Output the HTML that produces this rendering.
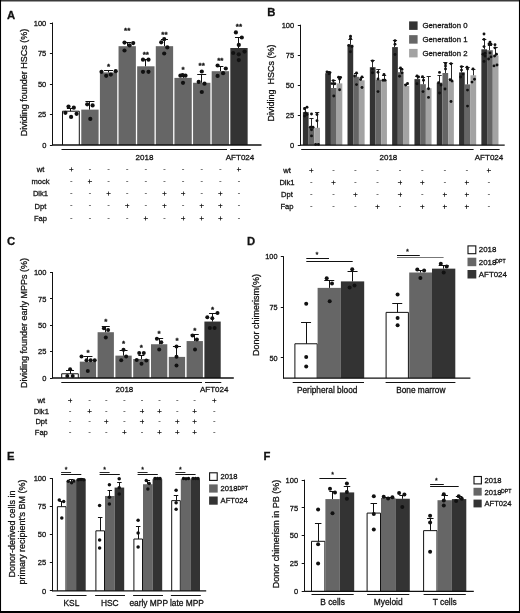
<!DOCTYPE html>
<html><head><meta charset="utf-8"><title>Figure</title>
<style>
html,body{margin:0;padding:0;background:#fff;}
body{width:520px;height:613px;overflow:hidden;font-family:"Liberation Sans", sans-serif;}
svg{display:block;will-change:transform;}
</style></head><body>
<svg width="520" height="613" viewBox="0 0 520 613" font-family='"Liberation Sans", sans-serif' fill="#111111">
<style>text{stroke:#111;stroke-width:0.28px;paint-order:stroke}</style>
<rect x="0" y="0" width="520" height="613" fill="#ffffff"/>
<text x="7" y="19" font-size="11.3" font-weight="bold">A</text>
<line x1="52.5" y1="22.5" x2="52.5" y2="145.5" stroke="#111111" stroke-width="1"/>
<line x1="49.9" y1="145.5" x2="52.5" y2="145.5" stroke="#111111" stroke-width="1"/>
<text x="46.3" y="147.66" font-size="7.5" text-anchor="end">0</text>
<line x1="49.9" y1="114.5" x2="52.5" y2="114.5" stroke="#111111" stroke-width="1"/>
<text x="46.3" y="117.16" font-size="7.5" text-anchor="end">25</text>
<line x1="49.9" y1="84.5" x2="52.5" y2="84.5" stroke="#111111" stroke-width="1"/>
<text x="46.3" y="86.66" font-size="7.5" text-anchor="end">50</text>
<line x1="49.9" y1="53.5" x2="52.5" y2="53.5" stroke="#111111" stroke-width="1"/>
<text x="46.3" y="56.16" font-size="7.5" text-anchor="end">75</text>
<line x1="49.9" y1="23.5" x2="52.5" y2="23.5" stroke="#111111" stroke-width="1"/>
<text x="46.3" y="25.66" font-size="7.5" text-anchor="end">100</text>
<text x="27.3" y="82.5" font-size="9" text-anchor="middle" transform="rotate(-90 27.3 82.5)">Dividing founder HSCs (%)</text>
<rect x="62.5" y="111.21" width="16.8" height="33.79" fill="#fff"/>
<polyline points="62.5,145 62.5,111.21 79.3,111.21 79.3,145" fill="none" stroke="#111111" stroke-width="1"/>
<line x1="70.5" y1="111.21" x2="70.5" y2="108.5" stroke="#111111" stroke-width="1"/>
<line x1="66.9" y1="108.5" x2="74.9" y2="108.5" stroke="#111111" stroke-width="1"/>
<circle cx="68.5" cy="106.6" r="2.1" fill="#111111"/>
<circle cx="73.8" cy="107.7" r="2.1" fill="#111111"/>
<circle cx="65.4" cy="112.8" r="2.1" fill="#111111"/>
<circle cx="71.1" cy="116.9" r="2.1" fill="#111111"/>
<circle cx="76.6" cy="113.8" r="2.1" fill="#111111"/>
<rect x="81.28" y="109.62" width="17.33" height="35.38" fill="#666666"/>
<line x1="89.5" y1="109.62" x2="89.5" y2="101.2" stroke="#111111" stroke-width="1"/>
<line x1="85.44" y1="101.5" x2="94.44" y2="101.5" stroke="#111111" stroke-width="1"/>
<circle cx="87.2" cy="104.3" r="2.1" fill="#111111"/>
<circle cx="92.6" cy="105.4" r="2.1" fill="#111111"/>
<circle cx="90.3" cy="118.9" r="2.1" fill="#111111"/>
<rect x="99.91" y="72.41" width="17.33" height="72.59" fill="#666666"/>
<line x1="108.5" y1="72.41" x2="108.5" y2="70.8" stroke="#111111" stroke-width="1"/>
<line x1="104.07" y1="70.5" x2="113.07" y2="70.5" stroke="#111111" stroke-width="1"/>
<circle cx="101.5" cy="71.8" r="2.1" fill="#111111"/>
<circle cx="106.2" cy="75.8" r="2.1" fill="#111111"/>
<circle cx="110.8" cy="74.6" r="2.1" fill="#111111"/>
<circle cx="115.7" cy="71.2" r="2.1" fill="#111111"/>
<text x="108.57" y="68.7" font-size="8" text-anchor="middle" font-weight="bold">*</text>
<rect x="118.54" y="46.18" width="17.33" height="98.82" fill="#666666"/>
<line x1="127.5" y1="46.18" x2="127.5" y2="42.3" stroke="#111111" stroke-width="1"/>
<line x1="123.2" y1="42.5" x2="131.2" y2="42.5" stroke="#111111" stroke-width="1"/>
<circle cx="124.5" cy="42.6" r="2.1" fill="#111111"/>
<circle cx="129.6" cy="45.4" r="2.1" fill="#111111"/>
<circle cx="133.2" cy="43.1" r="2.1" fill="#111111"/>
<circle cx="124.5" cy="50.5" r="2.1" fill="#111111"/>
<text x="127.2" y="32.9" font-size="8" text-anchor="middle" font-weight="bold">**</text>
<rect x="137.17" y="66.31" width="17.33" height="78.69" fill="#666666"/>
<line x1="145.5" y1="66.31" x2="145.5" y2="59.2" stroke="#111111" stroke-width="1"/>
<line x1="142.33" y1="59.5" x2="149.33" y2="59.5" stroke="#111111" stroke-width="1"/>
<circle cx="143" cy="59.7" r="2.1" fill="#111111"/>
<circle cx="148.5" cy="59.7" r="2.1" fill="#111111"/>
<circle cx="143" cy="71.8" r="2.1" fill="#111111"/>
<circle cx="148.5" cy="71.8" r="2.1" fill="#111111"/>
<text x="145.83" y="56.7" font-size="8" text-anchor="middle" font-weight="bold">**</text>
<rect x="155.8" y="46.18" width="17.33" height="98.82" fill="#666666"/>
<line x1="164.5" y1="46.18" x2="164.5" y2="39.2" stroke="#111111" stroke-width="1"/>
<line x1="160.96" y1="39.5" x2="167.96" y2="39.5" stroke="#111111" stroke-width="1"/>
<circle cx="161.2" cy="42.3" r="2.1" fill="#111111"/>
<circle cx="164.2" cy="39.2" r="2.1" fill="#111111"/>
<circle cx="167.3" cy="47.4" r="2.1" fill="#111111"/>
<circle cx="164.2" cy="53.5" r="2.1" fill="#111111"/>
<text x="164.46" y="37.2" font-size="8" text-anchor="middle" font-weight="bold">**</text>
<rect x="174.43" y="77.9" width="17.33" height="67.1" fill="#666666"/>
<line x1="183.5" y1="77.9" x2="183.5" y2="75" stroke="#111111" stroke-width="1"/>
<line x1="179.59" y1="75.5" x2="186.59" y2="75.5" stroke="#111111" stroke-width="1"/>
<circle cx="180.4" cy="75.7" r="2.1" fill="#111111"/>
<circle cx="185.5" cy="75.7" r="2.1" fill="#111111"/>
<circle cx="183" cy="82.8" r="2.1" fill="#111111"/>
<circle cx="182.6" cy="75.2" r="2.1" fill="#111111"/>
<text x="183.09" y="71.8" font-size="8" text-anchor="middle" font-weight="bold">*</text>
<rect x="193.06" y="82.78" width="17.33" height="62.22" fill="#666666"/>
<line x1="201.5" y1="82.78" x2="201.5" y2="74.2" stroke="#111111" stroke-width="1"/>
<line x1="197.22" y1="74.5" x2="206.22" y2="74.5" stroke="#111111" stroke-width="1"/>
<circle cx="201.8" cy="71.5" r="2.1" fill="#111111"/>
<circle cx="198.7" cy="81.9" r="2.1" fill="#111111"/>
<circle cx="204.5" cy="83.7" r="2.1" fill="#111111"/>
<circle cx="201.8" cy="92" r="2.1" fill="#111111"/>
<text x="201.72" y="68.2" font-size="8" text-anchor="middle" font-weight="bold">**</text>
<rect x="211.69" y="71.19" width="17.33" height="73.81" fill="#666666"/>
<line x1="220.5" y1="71.19" x2="220.5" y2="66.4" stroke="#111111" stroke-width="1"/>
<line x1="217.35" y1="66.5" x2="223.35" y2="66.5" stroke="#111111" stroke-width="1"/>
<circle cx="217.6" cy="65.5" r="2.1" fill="#111111"/>
<circle cx="225.8" cy="68.5" r="2.1" fill="#111111"/>
<circle cx="223.1" cy="73.2" r="2.1" fill="#111111"/>
<circle cx="217.6" cy="75.9" r="2.1" fill="#111111"/>
<text x="220.35" y="63.4" font-size="8" text-anchor="middle" font-weight="bold">**</text>
<rect x="230.32" y="48.01" width="17.33" height="96.99" fill="#333333"/>
<line x1="238.5" y1="48.01" x2="238.5" y2="37.5" stroke="#111111" stroke-width="1"/>
<line x1="234.98" y1="37.5" x2="242.98" y2="37.5" stroke="#111111" stroke-width="1"/>
<circle cx="235.9" cy="32.4" r="2.1" fill="#111111"/>
<circle cx="241.8" cy="37.5" r="2.1" fill="#111111"/>
<circle cx="238.8" cy="44.9" r="2.1" fill="#111111"/>
<circle cx="233.2" cy="53" r="2.1" fill="#111111"/>
<circle cx="244.5" cy="51.6" r="2.1" fill="#111111"/>
<circle cx="238.8" cy="54.3" r="2.1" fill="#111111"/>
<circle cx="238.8" cy="60.1" r="2.1" fill="#111111"/>
<text x="238.98" y="29.2" font-size="8" text-anchor="middle" font-weight="bold">**</text>
<line x1="61.5" y1="149.5" x2="227" y2="149.5" stroke="#111111" stroke-width="1"/>
<line x1="230.2" y1="149.5" x2="250.7" y2="149.5" stroke="#111111" stroke-width="1"/>
<text x="144.5" y="159.5" font-size="8" text-anchor="middle">2018</text>
<text x="240" y="160" font-size="8" text-anchor="middle">AFT024</text>
<text x="40.5" y="172" font-size="7.6" text-anchor="middle">wt</text>
<line x1="69.22" y1="169.5" x2="73.41" y2="169.5" stroke="#111111" stroke-width="0.75"/>
<line x1="71.5" y1="167.3" x2="71.5" y2="171.5" stroke="#111111" stroke-width="0.75"/>
<line x1="88.94" y1="169.5" x2="90.94" y2="169.5" stroke="#555" stroke-width="0.8"/>
<line x1="107.57" y1="169.5" x2="109.57" y2="169.5" stroke="#555" stroke-width="0.8"/>
<line x1="126.2" y1="169.5" x2="128.2" y2="169.5" stroke="#555" stroke-width="0.8"/>
<line x1="144.83" y1="169.5" x2="146.83" y2="169.5" stroke="#555" stroke-width="0.8"/>
<line x1="163.46" y1="169.5" x2="165.46" y2="169.5" stroke="#555" stroke-width="0.8"/>
<line x1="182.09" y1="169.5" x2="184.09" y2="169.5" stroke="#555" stroke-width="0.8"/>
<line x1="200.72" y1="169.5" x2="202.72" y2="169.5" stroke="#555" stroke-width="0.8"/>
<line x1="219.35" y1="169.5" x2="221.35" y2="169.5" stroke="#555" stroke-width="0.8"/>
<line x1="236.88" y1="169.5" x2="241.08" y2="169.5" stroke="#111111" stroke-width="0.75"/>
<line x1="238.5" y1="167.3" x2="238.5" y2="171.5" stroke="#111111" stroke-width="0.75"/>
<text x="40.5" y="184.1" font-size="7.6" text-anchor="middle">mock</text>
<line x1="70.31" y1="181.5" x2="72.31" y2="181.5" stroke="#555" stroke-width="0.8"/>
<line x1="87.84" y1="181.5" x2="92.04" y2="181.5" stroke="#111111" stroke-width="0.75"/>
<line x1="89.5" y1="179.4" x2="89.5" y2="183.6" stroke="#111111" stroke-width="0.75"/>
<line x1="107.57" y1="181.5" x2="109.57" y2="181.5" stroke="#555" stroke-width="0.8"/>
<line x1="126.2" y1="181.5" x2="128.2" y2="181.5" stroke="#555" stroke-width="0.8"/>
<line x1="144.83" y1="181.5" x2="146.83" y2="181.5" stroke="#555" stroke-width="0.8"/>
<line x1="163.46" y1="181.5" x2="165.46" y2="181.5" stroke="#555" stroke-width="0.8"/>
<line x1="182.09" y1="181.5" x2="184.09" y2="181.5" stroke="#555" stroke-width="0.8"/>
<line x1="200.72" y1="181.5" x2="202.72" y2="181.5" stroke="#555" stroke-width="0.8"/>
<line x1="219.35" y1="181.5" x2="221.35" y2="181.5" stroke="#555" stroke-width="0.8"/>
<line x1="237.98" y1="181.5" x2="239.98" y2="181.5" stroke="#555" stroke-width="0.8"/>
<text x="40.5" y="196.2" font-size="7.6" text-anchor="middle">Dlk1</text>
<line x1="70.31" y1="193.5" x2="72.31" y2="193.5" stroke="#555" stroke-width="0.8"/>
<line x1="88.94" y1="193.5" x2="90.94" y2="193.5" stroke="#555" stroke-width="0.8"/>
<line x1="106.47" y1="193.5" x2="110.67" y2="193.5" stroke="#111111" stroke-width="0.75"/>
<line x1="108.5" y1="191.5" x2="108.5" y2="195.7" stroke="#111111" stroke-width="0.75"/>
<line x1="126.2" y1="193.5" x2="128.2" y2="193.5" stroke="#555" stroke-width="0.8"/>
<line x1="144.83" y1="193.5" x2="146.83" y2="193.5" stroke="#555" stroke-width="0.8"/>
<line x1="162.36" y1="193.5" x2="166.56" y2="193.5" stroke="#111111" stroke-width="0.75"/>
<line x1="164.5" y1="191.5" x2="164.5" y2="195.7" stroke="#111111" stroke-width="0.75"/>
<line x1="181" y1="193.5" x2="185.19" y2="193.5" stroke="#111111" stroke-width="0.75"/>
<line x1="183.5" y1="191.5" x2="183.5" y2="195.7" stroke="#111111" stroke-width="0.75"/>
<line x1="200.72" y1="193.5" x2="202.72" y2="193.5" stroke="#555" stroke-width="0.8"/>
<line x1="218.25" y1="193.5" x2="222.45" y2="193.5" stroke="#111111" stroke-width="0.75"/>
<line x1="220.5" y1="191.5" x2="220.5" y2="195.7" stroke="#111111" stroke-width="0.75"/>
<line x1="237.98" y1="193.5" x2="239.98" y2="193.5" stroke="#555" stroke-width="0.8"/>
<text x="40.5" y="208.5" font-size="7.6" text-anchor="middle">Dpt</text>
<line x1="70.31" y1="205.5" x2="72.31" y2="205.5" stroke="#555" stroke-width="0.8"/>
<line x1="88.94" y1="205.5" x2="90.94" y2="205.5" stroke="#555" stroke-width="0.8"/>
<line x1="107.57" y1="205.5" x2="109.57" y2="205.5" stroke="#555" stroke-width="0.8"/>
<line x1="125.1" y1="205.5" x2="129.3" y2="205.5" stroke="#111111" stroke-width="0.75"/>
<line x1="127.5" y1="203.8" x2="127.5" y2="208" stroke="#111111" stroke-width="0.75"/>
<line x1="144.83" y1="205.5" x2="146.83" y2="205.5" stroke="#555" stroke-width="0.8"/>
<line x1="162.36" y1="205.5" x2="166.56" y2="205.5" stroke="#111111" stroke-width="0.75"/>
<line x1="164.5" y1="203.8" x2="164.5" y2="208" stroke="#111111" stroke-width="0.75"/>
<line x1="182.09" y1="205.5" x2="184.09" y2="205.5" stroke="#555" stroke-width="0.8"/>
<line x1="199.62" y1="205.5" x2="203.82" y2="205.5" stroke="#111111" stroke-width="0.75"/>
<line x1="201.5" y1="203.8" x2="201.5" y2="208" stroke="#111111" stroke-width="0.75"/>
<line x1="218.25" y1="205.5" x2="222.45" y2="205.5" stroke="#111111" stroke-width="0.75"/>
<line x1="220.5" y1="203.8" x2="220.5" y2="208" stroke="#111111" stroke-width="0.75"/>
<line x1="237.98" y1="205.5" x2="239.98" y2="205.5" stroke="#555" stroke-width="0.8"/>
<text x="40.5" y="221" font-size="7.6" text-anchor="middle">Fap</text>
<line x1="70.31" y1="218.5" x2="72.31" y2="218.5" stroke="#555" stroke-width="0.8"/>
<line x1="88.94" y1="218.5" x2="90.94" y2="218.5" stroke="#555" stroke-width="0.8"/>
<line x1="107.57" y1="218.5" x2="109.57" y2="218.5" stroke="#555" stroke-width="0.8"/>
<line x1="126.2" y1="218.5" x2="128.2" y2="218.5" stroke="#555" stroke-width="0.8"/>
<line x1="143.73" y1="218.5" x2="147.93" y2="218.5" stroke="#111111" stroke-width="0.75"/>
<line x1="145.5" y1="216.3" x2="145.5" y2="220.5" stroke="#111111" stroke-width="0.75"/>
<line x1="163.46" y1="218.5" x2="165.46" y2="218.5" stroke="#555" stroke-width="0.8"/>
<line x1="181" y1="218.5" x2="185.19" y2="218.5" stroke="#111111" stroke-width="0.75"/>
<line x1="183.5" y1="216.3" x2="183.5" y2="220.5" stroke="#111111" stroke-width="0.75"/>
<line x1="199.62" y1="218.5" x2="203.82" y2="218.5" stroke="#111111" stroke-width="0.75"/>
<line x1="201.5" y1="216.3" x2="201.5" y2="220.5" stroke="#111111" stroke-width="0.75"/>
<line x1="218.25" y1="218.5" x2="222.45" y2="218.5" stroke="#111111" stroke-width="0.75"/>
<line x1="220.5" y1="216.3" x2="220.5" y2="220.5" stroke="#111111" stroke-width="0.75"/>
<line x1="237.98" y1="218.5" x2="239.98" y2="218.5" stroke="#555" stroke-width="0.8"/>
<text x="267.2" y="15.9" font-size="11.3" font-weight="bold">B</text>
<line x1="300.5" y1="24.7" x2="300.5" y2="145.7" stroke="#111111" stroke-width="1"/>
<line x1="297.8" y1="145.5" x2="300.4" y2="145.5" stroke="#111111" stroke-width="1"/>
<text x="294.2" y="147.85" font-size="7.5" text-anchor="end">0</text>
<line x1="297.8" y1="115.5" x2="300.4" y2="115.5" stroke="#111111" stroke-width="1"/>
<text x="294.2" y="117.85" font-size="7.5" text-anchor="end">25</text>
<line x1="297.8" y1="85.5" x2="300.4" y2="85.5" stroke="#111111" stroke-width="1"/>
<text x="294.2" y="87.85" font-size="7.5" text-anchor="end">50</text>
<line x1="297.8" y1="55.5" x2="300.4" y2="55.5" stroke="#111111" stroke-width="1"/>
<text x="294.2" y="57.86" font-size="7.5" text-anchor="end">75</text>
<line x1="297.8" y1="25.5" x2="300.4" y2="25.5" stroke="#111111" stroke-width="1"/>
<text x="294.2" y="27.86" font-size="7.5" text-anchor="end">100</text>
<text x="273.6" y="83" font-size="9" text-anchor="middle" transform="rotate(-90 273.6 83)" xml:space="preserve">Dividing  HSCs (%)</text>
<rect x="302.9" y="112.1" width="5.7" height="33.1" fill="#333333"/>
<rect x="308.6" y="127" width="5.7" height="18.2" fill="#666666"/>
<rect x="314.3" y="127.8" width="5.7" height="17.4" fill="#a3a3a3"/>
<line x1="305.5" y1="112.1" x2="305.5" y2="107.8" stroke="#111111" stroke-width="0.9"/>
<line x1="303.65" y1="107.5" x2="307.85" y2="107.5" stroke="#111111" stroke-width="0.9"/>
<circle cx="304.5" cy="108.8" r="1.45" fill="#111111"/>
<circle cx="307" cy="107.3" r="1.45" fill="#111111"/>
<circle cx="305.5" cy="113" r="1.45" fill="#111111"/>
<circle cx="307" cy="114.5" r="1.45" fill="#111111"/>
<circle cx="304.6" cy="116" r="1.45" fill="#111111"/>
<line x1="311.5" y1="127" x2="311.5" y2="118.4" stroke="#111111" stroke-width="0.9"/>
<line x1="309.35" y1="118.5" x2="313.55" y2="118.5" stroke="#111111" stroke-width="0.9"/>
<circle cx="311.5" cy="114" r="1.45" fill="#111111"/>
<circle cx="310.4" cy="127.3" r="1.45" fill="#111111"/>
<circle cx="313" cy="127.3" r="1.45" fill="#111111"/>
<circle cx="311.5" cy="129.8" r="1.45" fill="#111111"/>
<circle cx="311.5" cy="135.9" r="1.45" fill="#111111"/>
<line x1="317.5" y1="127.8" x2="317.5" y2="112.5" stroke="#111111" stroke-width="0.9"/>
<line x1="315.05" y1="112.5" x2="319.25" y2="112.5" stroke="#111111" stroke-width="0.9"/>
<circle cx="317" cy="114.5" r="1.45" fill="#111111"/>
<circle cx="317" cy="120.8" r="1.45" fill="#111111"/>
<circle cx="315.6" cy="144.4" r="1.45" fill="#111111"/>
<circle cx="318.4" cy="144.4" r="1.45" fill="#111111"/>
<rect x="325.21" y="73.2" width="5.7" height="72" fill="#333333"/>
<rect x="330.91" y="88" width="5.7" height="57.2" fill="#666666"/>
<rect x="336.61" y="83.4" width="5.7" height="61.8" fill="#a3a3a3"/>
<line x1="328.5" y1="73.2" x2="328.5" y2="71.4" stroke="#111111" stroke-width="0.9"/>
<line x1="325.96" y1="71.5" x2="330.16" y2="71.5" stroke="#111111" stroke-width="0.9"/>
<circle cx="327" cy="72" r="1.45" fill="#111111"/>
<circle cx="330" cy="72.6" r="1.45" fill="#111111"/>
<circle cx="329" cy="73.8" r="1.45" fill="#111111"/>
<line x1="333.5" y1="88" x2="333.5" y2="80.3" stroke="#111111" stroke-width="0.9"/>
<line x1="331.66" y1="80.5" x2="335.86" y2="80.5" stroke="#111111" stroke-width="0.9"/>
<circle cx="333.3" cy="80.6" r="1.45" fill="#111111"/>
<circle cx="332" cy="83.6" r="1.45" fill="#111111"/>
<circle cx="334.8" cy="83.8" r="1.45" fill="#111111"/>
<circle cx="333.8" cy="96" r="1.45" fill="#111111"/>
<line x1="339.5" y1="83.4" x2="339.5" y2="77.7" stroke="#111111" stroke-width="0.9"/>
<line x1="337.36" y1="77.5" x2="341.56" y2="77.5" stroke="#111111" stroke-width="0.9"/>
<circle cx="338.6" cy="77.2" r="1.45" fill="#111111"/>
<circle cx="340.6" cy="77.4" r="1.45" fill="#111111"/>
<circle cx="339.6" cy="79" r="1.45" fill="#111111"/>
<circle cx="339.6" cy="89.8" r="1.45" fill="#111111"/>
<rect x="347.52" y="44.8" width="5.7" height="100.4" fill="#333333"/>
<rect x="353.22" y="76.8" width="5.7" height="68.4" fill="#666666"/>
<rect x="358.92" y="80.3" width="5.7" height="64.9" fill="#a3a3a3"/>
<line x1="350.5" y1="44.8" x2="350.5" y2="39.1" stroke="#111111" stroke-width="0.9"/>
<line x1="348.27" y1="39.5" x2="352.47" y2="39.5" stroke="#111111" stroke-width="0.9"/>
<circle cx="350.5" cy="36.3" r="1.45" fill="#111111"/>
<circle cx="350.5" cy="38.4" r="1.45" fill="#111111"/>
<circle cx="348.8" cy="45.5" r="1.45" fill="#111111"/>
<circle cx="352" cy="46.5" r="1.45" fill="#111111"/>
<circle cx="350.4" cy="51.7" r="1.45" fill="#111111"/>
<line x1="356.5" y1="76.8" x2="356.5" y2="73.2" stroke="#111111" stroke-width="0.9"/>
<line x1="353.97" y1="73.5" x2="358.17" y2="73.5" stroke="#111111" stroke-width="0.9"/>
<circle cx="356.5" cy="73" r="1.45" fill="#111111"/>
<circle cx="354.6" cy="76" r="1.45" fill="#111111"/>
<circle cx="356.5" cy="84.6" r="1.45" fill="#111111"/>
<line x1="361.5" y1="80.3" x2="361.5" y2="77.2" stroke="#111111" stroke-width="0.9"/>
<line x1="359.67" y1="77.5" x2="363.87" y2="77.5" stroke="#111111" stroke-width="0.9"/>
<circle cx="362" cy="77" r="1.45" fill="#111111"/>
<circle cx="360.5" cy="79.5" r="1.45" fill="#111111"/>
<circle cx="362" cy="87.5" r="1.45" fill="#111111"/>
<rect x="369.83" y="67.2" width="5.7" height="78" fill="#333333"/>
<rect x="375.53" y="79.7" width="5.7" height="65.5" fill="#666666"/>
<rect x="381.23" y="80.2" width="5.7" height="65" fill="#a3a3a3"/>
<line x1="372.5" y1="67.2" x2="372.5" y2="60.8" stroke="#111111" stroke-width="0.9"/>
<line x1="370.58" y1="60.5" x2="374.78" y2="60.5" stroke="#111111" stroke-width="0.9"/>
<circle cx="372.5" cy="61" r="1.45" fill="#111111"/>
<circle cx="372.5" cy="69" r="1.45" fill="#111111"/>
<circle cx="372.5" cy="72.8" r="1.45" fill="#111111"/>
<line x1="378.5" y1="79.7" x2="378.5" y2="69.4" stroke="#111111" stroke-width="0.9"/>
<line x1="376.28" y1="69.5" x2="380.48" y2="69.5" stroke="#111111" stroke-width="0.9"/>
<circle cx="378" cy="72.2" r="1.45" fill="#111111"/>
<circle cx="378" cy="79" r="1.45" fill="#111111"/>
<circle cx="378" cy="91.6" r="1.45" fill="#111111"/>
<line x1="384.5" y1="80.2" x2="384.5" y2="75.1" stroke="#111111" stroke-width="0.9"/>
<line x1="381.98" y1="75.5" x2="386.18" y2="75.5" stroke="#111111" stroke-width="0.9"/>
<circle cx="384" cy="74.5" r="1.45" fill="#111111"/>
<circle cx="383" cy="80.2" r="1.45" fill="#111111"/>
<circle cx="385" cy="80.2" r="1.45" fill="#111111"/>
<rect x="392.14" y="47.1" width="5.7" height="98.1" fill="#333333"/>
<rect x="397.84" y="72.2" width="5.7" height="73" fill="#666666"/>
<rect x="403.54" y="85.9" width="5.7" height="59.3" fill="#a3a3a3"/>
<line x1="394.5" y1="47.1" x2="394.5" y2="40.8" stroke="#111111" stroke-width="0.9"/>
<line x1="392.89" y1="40.5" x2="397.09" y2="40.5" stroke="#111111" stroke-width="0.9"/>
<circle cx="395" cy="40.8" r="1.45" fill="#111111"/>
<circle cx="395" cy="44.3" r="1.45" fill="#111111"/>
<circle cx="395" cy="54.5" r="1.45" fill="#111111"/>
<line x1="400.5" y1="72.2" x2="400.5" y2="68.2" stroke="#111111" stroke-width="0.9"/>
<line x1="398.59" y1="68.5" x2="402.79" y2="68.5" stroke="#111111" stroke-width="0.9"/>
<circle cx="400.5" cy="68" r="1.45" fill="#111111"/>
<circle cx="402" cy="69.4" r="1.45" fill="#111111"/>
<circle cx="402" cy="72.8" r="1.45" fill="#111111"/>
<circle cx="399.6" cy="76.2" r="1.45" fill="#111111"/>
<line x1="406.5" y1="85.9" x2="406.5" y2="84.6" stroke="#111111" stroke-width="0.9"/>
<line x1="404.29" y1="84.5" x2="408.49" y2="84.5" stroke="#111111" stroke-width="0.9"/>
<circle cx="405.6" cy="85" r="1.45" fill="#111111"/>
<circle cx="407.5" cy="83.5" r="1.45" fill="#111111"/>
<rect x="414.45" y="79.1" width="5.7" height="66.1" fill="#333333"/>
<rect x="420.15" y="84.2" width="5.7" height="61" fill="#666666"/>
<rect x="425.85" y="88.2" width="5.7" height="57" fill="#a3a3a3"/>
<line x1="417.5" y1="79.1" x2="417.5" y2="76.2" stroke="#111111" stroke-width="0.9"/>
<line x1="415.2" y1="76.5" x2="419.4" y2="76.5" stroke="#111111" stroke-width="0.9"/>
<circle cx="417" cy="76" r="1.45" fill="#111111"/>
<circle cx="418.5" cy="77" r="1.45" fill="#111111"/>
<circle cx="417" cy="83.7" r="1.45" fill="#111111"/>
<line x1="423.5" y1="84.2" x2="423.5" y2="77.4" stroke="#111111" stroke-width="0.9"/>
<line x1="420.9" y1="77.5" x2="425.1" y2="77.5" stroke="#111111" stroke-width="0.9"/>
<circle cx="422.5" cy="76.8" r="1.45" fill="#111111"/>
<circle cx="423.5" cy="80.2" r="1.45" fill="#111111"/>
<circle cx="423" cy="91.6" r="1.45" fill="#111111"/>
<line x1="428.5" y1="88.2" x2="428.5" y2="76.8" stroke="#111111" stroke-width="0.9"/>
<line x1="426.6" y1="76.5" x2="430.8" y2="76.5" stroke="#111111" stroke-width="0.9"/>
<circle cx="428.5" cy="88.8" r="1.45" fill="#111111"/>
<circle cx="428.5" cy="97.4" r="1.45" fill="#111111"/>
<rect x="436.76" y="82.7" width="5.7" height="62.5" fill="#333333"/>
<rect x="442.46" y="73" width="5.7" height="72.2" fill="#666666"/>
<rect x="448.16" y="81" width="5.7" height="64.2" fill="#a3a3a3"/>
<line x1="439.5" y1="82.7" x2="439.5" y2="75.3" stroke="#111111" stroke-width="0.9"/>
<line x1="437.51" y1="75.5" x2="441.71" y2="75.5" stroke="#111111" stroke-width="0.9"/>
<circle cx="439.5" cy="72.4" r="1.45" fill="#111111"/>
<circle cx="438.6" cy="82.7" r="1.45" fill="#111111"/>
<circle cx="441" cy="85" r="1.45" fill="#111111"/>
<circle cx="439.5" cy="93" r="1.45" fill="#111111"/>
<line x1="445.5" y1="73" x2="445.5" y2="62.7" stroke="#111111" stroke-width="0.9"/>
<line x1="443.21" y1="62.5" x2="447.41" y2="62.5" stroke="#111111" stroke-width="0.9"/>
<circle cx="445.5" cy="63.8" r="1.45" fill="#111111"/>
<circle cx="445.5" cy="66.1" r="1.45" fill="#111111"/>
<circle cx="445.5" cy="69" r="1.45" fill="#111111"/>
<circle cx="445" cy="89" r="1.45" fill="#111111"/>
<line x1="451.5" y1="81" x2="451.5" y2="63.8" stroke="#111111" stroke-width="0.9"/>
<line x1="448.91" y1="63.5" x2="453.11" y2="63.5" stroke="#111111" stroke-width="0.9"/>
<circle cx="451" cy="63.8" r="1.45" fill="#111111"/>
<circle cx="450" cy="79.8" r="1.45" fill="#111111"/>
<circle cx="452" cy="81" r="1.45" fill="#111111"/>
<circle cx="451" cy="101.5" r="1.45" fill="#111111"/>
<rect x="459.07" y="72.4" width="5.7" height="72.8" fill="#333333"/>
<rect x="464.77" y="84.4" width="5.7" height="60.8" fill="#666666"/>
<rect x="470.47" y="75.3" width="5.7" height="69.9" fill="#a3a3a3"/>
<line x1="461.5" y1="72.4" x2="461.5" y2="66.7" stroke="#111111" stroke-width="0.9"/>
<line x1="459.82" y1="66.5" x2="464.02" y2="66.5" stroke="#111111" stroke-width="0.9"/>
<circle cx="461.5" cy="66.7" r="1.45" fill="#111111"/>
<circle cx="461.5" cy="70.1" r="1.45" fill="#111111"/>
<circle cx="463" cy="74.1" r="1.45" fill="#111111"/>
<circle cx="460.6" cy="77" r="1.45" fill="#111111"/>
<line x1="467.5" y1="84.4" x2="467.5" y2="67.8" stroke="#111111" stroke-width="0.9"/>
<line x1="465.52" y1="67.5" x2="469.72" y2="67.5" stroke="#111111" stroke-width="0.9"/>
<circle cx="467" cy="67.3" r="1.45" fill="#111111"/>
<circle cx="467.5" cy="69" r="1.45" fill="#111111"/>
<circle cx="467.5" cy="90.1" r="1.45" fill="#111111"/>
<circle cx="467.5" cy="106.1" r="1.45" fill="#111111"/>
<line x1="473.5" y1="75.3" x2="473.5" y2="69" stroke="#111111" stroke-width="0.9"/>
<line x1="471.22" y1="69.5" x2="475.42" y2="69.5" stroke="#111111" stroke-width="0.9"/>
<circle cx="473" cy="69" r="1.45" fill="#111111"/>
<circle cx="472" cy="82.1" r="1.45" fill="#111111"/>
<circle cx="474.5" cy="79.2" r="1.45" fill="#111111"/>
<rect x="481.38" y="49.3" width="5.7" height="95.9" fill="#333333"/>
<rect x="487.08" y="50.2" width="5.7" height="95" fill="#666666"/>
<rect x="492.78" y="55.5" width="5.7" height="89.7" fill="#a3a3a3"/>
<line x1="484.5" y1="49.3" x2="484.5" y2="39.4" stroke="#111111" stroke-width="0.9"/>
<line x1="482.13" y1="39.5" x2="486.33" y2="39.5" stroke="#111111" stroke-width="0.9"/>
<circle cx="484" cy="34" r="1.45" fill="#111111"/>
<circle cx="484" cy="39.4" r="1.45" fill="#111111"/>
<circle cx="484" cy="46.6" r="1.45" fill="#111111"/>
<circle cx="483" cy="54.2" r="1.45" fill="#111111"/>
<circle cx="485" cy="53.3" r="1.45" fill="#111111"/>
<circle cx="485" cy="56" r="1.45" fill="#111111"/>
<circle cx="484" cy="61.4" r="1.45" fill="#111111"/>
<line x1="489.5" y1="50.2" x2="489.5" y2="45.2" stroke="#111111" stroke-width="0.9"/>
<line x1="487.83" y1="45.5" x2="492.03" y2="45.5" stroke="#111111" stroke-width="0.9"/>
<circle cx="490" cy="42.1" r="1.45" fill="#111111"/>
<circle cx="489" cy="43.9" r="1.45" fill="#111111"/>
<circle cx="491" cy="44.3" r="1.45" fill="#111111"/>
<circle cx="490" cy="52.9" r="1.45" fill="#111111"/>
<circle cx="491" cy="56.9" r="1.45" fill="#111111"/>
<circle cx="488.6" cy="59" r="1.45" fill="#111111"/>
<line x1="495.5" y1="55.5" x2="495.5" y2="47.5" stroke="#111111" stroke-width="0.9"/>
<line x1="493.53" y1="47.5" x2="497.73" y2="47.5" stroke="#111111" stroke-width="0.9"/>
<circle cx="495" cy="44.8" r="1.45" fill="#111111"/>
<circle cx="495" cy="47.9" r="1.45" fill="#111111"/>
<circle cx="494.6" cy="56" r="1.45" fill="#111111"/>
<circle cx="496.5" cy="54.2" r="1.45" fill="#111111"/>
<circle cx="494" cy="65.9" r="1.45" fill="#111111"/>
<circle cx="497" cy="65" r="1.45" fill="#111111"/>
<line x1="301.2" y1="149.5" x2="473.6" y2="149.5" stroke="#111111" stroke-width="1"/>
<line x1="480" y1="149.5" x2="499.6" y2="149.5" stroke="#111111" stroke-width="1"/>
<text x="388.4" y="160.3" font-size="8" text-anchor="middle">2018</text>
<text x="489" y="160.3" font-size="8" text-anchor="middle">AFT024</text>
<rect x="409.1" y="21.4" width="8.5" height="8.5" fill="#333333"/>
<text x="422.4" y="28.2" font-size="7.8">Generation 0</text>
<rect x="409.1" y="35.15" width="8.5" height="8.5" fill="#666666"/>
<text x="422.4" y="41.95" font-size="7.8">Generation 1</text>
<rect x="409.1" y="48.9" width="8.5" height="8.5" fill="#a3a3a3"/>
<text x="422.4" y="55.7" font-size="7.8">Generation 2</text>
<text x="287" y="173.1" font-size="7.6" text-anchor="middle">wt</text>
<line x1="309.2" y1="170.5" x2="313.4" y2="170.5" stroke="#111111" stroke-width="0.75"/>
<line x1="311.5" y1="168.4" x2="311.5" y2="172.6" stroke="#111111" stroke-width="0.75"/>
<line x1="332.5" y1="170.5" x2="334.5" y2="170.5" stroke="#555" stroke-width="0.8"/>
<line x1="354.4" y1="170.5" x2="356.4" y2="170.5" stroke="#555" stroke-width="0.8"/>
<line x1="376.5" y1="170.5" x2="378.5" y2="170.5" stroke="#555" stroke-width="0.8"/>
<line x1="399" y1="170.5" x2="401" y2="170.5" stroke="#555" stroke-width="0.8"/>
<line x1="421.3" y1="170.5" x2="423.3" y2="170.5" stroke="#555" stroke-width="0.8"/>
<line x1="443.9" y1="170.5" x2="445.9" y2="170.5" stroke="#555" stroke-width="0.8"/>
<line x1="465.9" y1="170.5" x2="467.9" y2="170.5" stroke="#555" stroke-width="0.8"/>
<line x1="486.8" y1="170.5" x2="491" y2="170.5" stroke="#111111" stroke-width="0.75"/>
<line x1="488.5" y1="168.4" x2="488.5" y2="172.6" stroke="#111111" stroke-width="0.75"/>
<text x="287" y="185.2" font-size="7.6" text-anchor="middle">Dlk1</text>
<line x1="310.3" y1="182.5" x2="312.3" y2="182.5" stroke="#555" stroke-width="0.8"/>
<line x1="331.4" y1="182.5" x2="335.6" y2="182.5" stroke="#111111" stroke-width="0.75"/>
<line x1="333.5" y1="180.5" x2="333.5" y2="184.7" stroke="#111111" stroke-width="0.75"/>
<line x1="354.4" y1="182.5" x2="356.4" y2="182.5" stroke="#555" stroke-width="0.8"/>
<line x1="376.5" y1="182.5" x2="378.5" y2="182.5" stroke="#555" stroke-width="0.8"/>
<line x1="397.9" y1="182.5" x2="402.1" y2="182.5" stroke="#111111" stroke-width="0.75"/>
<line x1="400.5" y1="180.5" x2="400.5" y2="184.7" stroke="#111111" stroke-width="0.75"/>
<line x1="420.2" y1="182.5" x2="424.4" y2="182.5" stroke="#111111" stroke-width="0.75"/>
<line x1="422.5" y1="180.5" x2="422.5" y2="184.7" stroke="#111111" stroke-width="0.75"/>
<line x1="443.9" y1="182.5" x2="445.9" y2="182.5" stroke="#555" stroke-width="0.8"/>
<line x1="464.8" y1="182.5" x2="469" y2="182.5" stroke="#111111" stroke-width="0.75"/>
<line x1="466.5" y1="180.5" x2="466.5" y2="184.7" stroke="#111111" stroke-width="0.75"/>
<line x1="487.9" y1="182.5" x2="489.9" y2="182.5" stroke="#555" stroke-width="0.8"/>
<text x="287" y="197.3" font-size="7.6" text-anchor="middle">Dpt</text>
<line x1="310.3" y1="194.5" x2="312.3" y2="194.5" stroke="#555" stroke-width="0.8"/>
<line x1="332.5" y1="194.5" x2="334.5" y2="194.5" stroke="#555" stroke-width="0.8"/>
<line x1="353.3" y1="194.5" x2="357.5" y2="194.5" stroke="#111111" stroke-width="0.75"/>
<line x1="355.5" y1="192.6" x2="355.5" y2="196.8" stroke="#111111" stroke-width="0.75"/>
<line x1="376.5" y1="194.5" x2="378.5" y2="194.5" stroke="#555" stroke-width="0.8"/>
<line x1="397.9" y1="194.5" x2="402.1" y2="194.5" stroke="#111111" stroke-width="0.75"/>
<line x1="400.5" y1="192.6" x2="400.5" y2="196.8" stroke="#111111" stroke-width="0.75"/>
<line x1="421.3" y1="194.5" x2="423.3" y2="194.5" stroke="#555" stroke-width="0.8"/>
<line x1="442.8" y1="194.5" x2="447" y2="194.5" stroke="#111111" stroke-width="0.75"/>
<line x1="444.5" y1="192.6" x2="444.5" y2="196.8" stroke="#111111" stroke-width="0.75"/>
<line x1="464.8" y1="194.5" x2="469" y2="194.5" stroke="#111111" stroke-width="0.75"/>
<line x1="466.5" y1="192.6" x2="466.5" y2="196.8" stroke="#111111" stroke-width="0.75"/>
<line x1="487.9" y1="194.5" x2="489.9" y2="194.5" stroke="#555" stroke-width="0.8"/>
<text x="287" y="209.4" font-size="7.6" text-anchor="middle">Fap</text>
<line x1="310.3" y1="206.5" x2="312.3" y2="206.5" stroke="#555" stroke-width="0.8"/>
<line x1="332.5" y1="206.5" x2="334.5" y2="206.5" stroke="#555" stroke-width="0.8"/>
<line x1="354.4" y1="206.5" x2="356.4" y2="206.5" stroke="#555" stroke-width="0.8"/>
<line x1="375.4" y1="206.5" x2="379.6" y2="206.5" stroke="#111111" stroke-width="0.75"/>
<line x1="377.5" y1="204.7" x2="377.5" y2="208.9" stroke="#111111" stroke-width="0.75"/>
<line x1="399" y1="206.5" x2="401" y2="206.5" stroke="#555" stroke-width="0.8"/>
<line x1="420.2" y1="206.5" x2="424.4" y2="206.5" stroke="#111111" stroke-width="0.75"/>
<line x1="422.5" y1="204.7" x2="422.5" y2="208.9" stroke="#111111" stroke-width="0.75"/>
<line x1="442.8" y1="206.5" x2="447" y2="206.5" stroke="#111111" stroke-width="0.75"/>
<line x1="444.5" y1="204.7" x2="444.5" y2="208.9" stroke="#111111" stroke-width="0.75"/>
<line x1="464.8" y1="206.5" x2="469" y2="206.5" stroke="#111111" stroke-width="0.75"/>
<line x1="466.5" y1="204.7" x2="466.5" y2="208.9" stroke="#111111" stroke-width="0.75"/>
<line x1="487.9" y1="206.5" x2="489.9" y2="206.5" stroke="#555" stroke-width="0.8"/>
<text x="7" y="245" font-size="11.3" font-weight="bold">C</text>
<line x1="52.5" y1="272" x2="52.5" y2="378.5" stroke="#111111" stroke-width="1"/>
<line x1="50" y1="378.5" x2="52.6" y2="378.5" stroke="#111111" stroke-width="1"/>
<text x="46.4" y="380.65" font-size="7.5" text-anchor="end">0</text>
<line x1="50" y1="351.5" x2="52.6" y2="351.5" stroke="#111111" stroke-width="1"/>
<text x="46.4" y="354.28" font-size="7.5" text-anchor="end">25</text>
<line x1="50" y1="325.5" x2="52.6" y2="325.5" stroke="#111111" stroke-width="1"/>
<text x="46.4" y="327.9" font-size="7.5" text-anchor="end">50</text>
<line x1="50" y1="298.5" x2="52.6" y2="298.5" stroke="#111111" stroke-width="1"/>
<text x="46.4" y="301.53" font-size="7.5" text-anchor="end">75</text>
<line x1="50" y1="272.5" x2="52.6" y2="272.5" stroke="#111111" stroke-width="1"/>
<text x="46.4" y="275.15" font-size="7.5" text-anchor="end">100</text>
<text x="26.6" y="323" font-size="9" text-anchor="middle" transform="rotate(-90 26.6 323)">Dividing founder early MPPs (%)</text>
<rect x="61.7" y="373.78" width="16.6" height="4.22" fill="#fff"/>
<polyline points="61.7,378 61.7,373.78 78.3,373.78 78.3,378" fill="none" stroke="#111111" stroke-width="1"/>
<line x1="70.5" y1="373.78" x2="70.5" y2="370.5" stroke="#111111" stroke-width="1"/>
<line x1="66" y1="370.5" x2="74" y2="370.5" stroke="#111111" stroke-width="1"/>
<circle cx="70.1" cy="369.2" r="2" fill="#111111"/>
<circle cx="67.3" cy="376" r="2" fill="#111111"/>
<circle cx="72.7" cy="376" r="2" fill="#111111"/>
<rect x="79.8" y="361.65" width="16.3" height="16.35" fill="#666666"/>
<line x1="87.5" y1="361.65" x2="87.5" y2="356.2" stroke="#111111" stroke-width="1"/>
<line x1="83.45" y1="356.5" x2="92.45" y2="356.5" stroke="#111111" stroke-width="1"/>
<circle cx="81.5" cy="356.5" r="2" fill="#111111"/>
<circle cx="86.5" cy="360.3" r="2" fill="#111111"/>
<circle cx="90.7" cy="360.3" r="2" fill="#111111"/>
<circle cx="94.7" cy="360.3" r="2" fill="#111111"/>
<circle cx="87.8" cy="371.1" r="2" fill="#111111"/>
<text x="87.95" y="354.9" font-size="8" text-anchor="middle" font-weight="bold">*</text>
<rect x="97.6" y="332.21" width="16.3" height="45.79" fill="#666666"/>
<line x1="105.5" y1="332.21" x2="105.5" y2="326.6" stroke="#111111" stroke-width="1"/>
<line x1="101.75" y1="326.5" x2="109.75" y2="326.5" stroke="#111111" stroke-width="1"/>
<circle cx="103.9" cy="328.2" r="2" fill="#111111"/>
<circle cx="108.1" cy="330" r="2" fill="#111111"/>
<circle cx="105.8" cy="337.4" r="2" fill="#111111"/>
<text x="105.75" y="324.1" font-size="8" text-anchor="middle" font-weight="bold">*</text>
<rect x="115.4" y="355.63" width="16.3" height="22.37" fill="#666666"/>
<line x1="123.5" y1="355.63" x2="123.5" y2="350" stroke="#111111" stroke-width="1"/>
<line x1="119.55" y1="350.5" x2="127.55" y2="350.5" stroke="#111111" stroke-width="1"/>
<circle cx="123.5" cy="349.7" r="2" fill="#111111"/>
<circle cx="126.1" cy="356.5" r="2" fill="#111111"/>
<circle cx="121.2" cy="360.3" r="2" fill="#111111"/>
<text x="123.55" y="346.1" font-size="8" text-anchor="middle" font-weight="bold">*</text>
<rect x="133.2" y="359.01" width="16.3" height="18.99" fill="#666666"/>
<line x1="141.5" y1="359.01" x2="141.5" y2="355.4" stroke="#111111" stroke-width="1"/>
<line x1="138.35" y1="355.5" x2="144.35" y2="355.5" stroke="#111111" stroke-width="1"/>
<circle cx="139.2" cy="352.9" r="2" fill="#111111"/>
<circle cx="143.8" cy="352.9" r="2" fill="#111111"/>
<circle cx="136.7" cy="360" r="2" fill="#111111"/>
<circle cx="146.3" cy="360.6" r="2" fill="#111111"/>
<circle cx="141.5" cy="363.8" r="2" fill="#111111"/>
<text x="141.35" y="350.3" font-size="8" text-anchor="middle" font-weight="bold">*</text>
<rect x="151" y="344.24" width="16.3" height="33.76" fill="#666666"/>
<line x1="159.5" y1="344.24" x2="159.5" y2="338.5" stroke="#111111" stroke-width="1"/>
<line x1="155.15" y1="338.5" x2="163.15" y2="338.5" stroke="#111111" stroke-width="1"/>
<circle cx="156.9" cy="338.8" r="2" fill="#111111"/>
<circle cx="161.3" cy="342.3" r="2" fill="#111111"/>
<circle cx="159.2" cy="349.6" r="2" fill="#111111"/>
<text x="159.15" y="336.4" font-size="8" text-anchor="middle" font-weight="bold">*</text>
<rect x="168.8" y="356.9" width="16.3" height="21.1" fill="#666666"/>
<line x1="176.5" y1="356.9" x2="176.5" y2="346.5" stroke="#111111" stroke-width="1"/>
<line x1="172.95" y1="346.5" x2="180.95" y2="346.5" stroke="#111111" stroke-width="1"/>
<circle cx="176.5" cy="346.5" r="2" fill="#111111"/>
<circle cx="176.5" cy="356.7" r="2" fill="#111111"/>
<circle cx="176.5" cy="365.4" r="2" fill="#111111"/>
<text x="176.95" y="342.6" font-size="8" text-anchor="middle" font-weight="bold">*</text>
<rect x="186.6" y="341.07" width="16.3" height="36.93" fill="#666666"/>
<line x1="194.5" y1="341.07" x2="194.5" y2="334.2" stroke="#111111" stroke-width="1"/>
<line x1="190.75" y1="334.5" x2="198.75" y2="334.5" stroke="#111111" stroke-width="1"/>
<circle cx="192.5" cy="335.6" r="2" fill="#111111"/>
<circle cx="196.9" cy="339.4" r="2" fill="#111111"/>
<circle cx="195" cy="349.6" r="2" fill="#111111"/>
<text x="194.75" y="332.9" font-size="8" text-anchor="middle" font-weight="bold">*</text>
<rect x="204.4" y="321.56" width="16.3" height="56.44" fill="#333333"/>
<line x1="212.5" y1="321.56" x2="212.5" y2="313.8" stroke="#111111" stroke-width="1"/>
<line x1="209.05" y1="313.5" x2="216.05" y2="313.5" stroke="#111111" stroke-width="1"/>
<circle cx="217.5" cy="313.1" r="2" fill="#111111"/>
<circle cx="207.3" cy="317.3" r="2" fill="#111111"/>
<circle cx="212.3" cy="318.3" r="2" fill="#111111"/>
<circle cx="209.8" cy="327.9" r="2" fill="#111111"/>
<circle cx="214.6" cy="327.9" r="2" fill="#111111"/>
<text x="212.55" y="312.2" font-size="8" text-anchor="middle" font-weight="bold">*</text>
<line x1="61.3" y1="382.5" x2="202" y2="382.5" stroke="#111111" stroke-width="1"/>
<line x1="205" y1="382.5" x2="221.3" y2="382.5" stroke="#111111" stroke-width="1"/>
<text x="124.4" y="392.3" font-size="8" text-anchor="middle">2018</text>
<text x="214.2" y="392.3" font-size="8" text-anchor="middle">AFT024</text>
<text x="41.3" y="403.2" font-size="7.6" text-anchor="middle">wt</text>
<line x1="68" y1="400.5" x2="72.2" y2="400.5" stroke="#111111" stroke-width="0.75"/>
<line x1="70.5" y1="398.5" x2="70.5" y2="402.7" stroke="#111111" stroke-width="0.75"/>
<line x1="88.6" y1="400.5" x2="90.6" y2="400.5" stroke="#555" stroke-width="0.8"/>
<line x1="105.3" y1="400.5" x2="107.3" y2="400.5" stroke="#555" stroke-width="0.8"/>
<line x1="123.4" y1="400.5" x2="125.4" y2="400.5" stroke="#555" stroke-width="0.8"/>
<line x1="141" y1="400.5" x2="143" y2="400.5" stroke="#555" stroke-width="0.8"/>
<line x1="158.5" y1="400.5" x2="160.5" y2="400.5" stroke="#555" stroke-width="0.8"/>
<line x1="176.3" y1="400.5" x2="178.3" y2="400.5" stroke="#555" stroke-width="0.8"/>
<line x1="193.6" y1="400.5" x2="195.6" y2="400.5" stroke="#555" stroke-width="0.8"/>
<line x1="212.2" y1="400.5" x2="216.4" y2="400.5" stroke="#111111" stroke-width="0.75"/>
<line x1="214.5" y1="398.5" x2="214.5" y2="402.7" stroke="#111111" stroke-width="0.75"/>
<text x="41.3" y="413.7" font-size="7.6" text-anchor="middle">Dlk1</text>
<line x1="69.1" y1="411.5" x2="71.1" y2="411.5" stroke="#555" stroke-width="0.8"/>
<line x1="87.5" y1="411.5" x2="91.7" y2="411.5" stroke="#111111" stroke-width="0.75"/>
<line x1="89.5" y1="409" x2="89.5" y2="413.2" stroke="#111111" stroke-width="0.75"/>
<line x1="105.3" y1="411.5" x2="107.3" y2="411.5" stroke="#555" stroke-width="0.8"/>
<line x1="123.4" y1="411.5" x2="125.4" y2="411.5" stroke="#555" stroke-width="0.8"/>
<line x1="139.9" y1="411.5" x2="144.1" y2="411.5" stroke="#111111" stroke-width="0.75"/>
<line x1="142.5" y1="409" x2="142.5" y2="413.2" stroke="#111111" stroke-width="0.75"/>
<line x1="157.4" y1="411.5" x2="161.6" y2="411.5" stroke="#111111" stroke-width="0.75"/>
<line x1="159.5" y1="409" x2="159.5" y2="413.2" stroke="#111111" stroke-width="0.75"/>
<line x1="176.3" y1="411.5" x2="178.3" y2="411.5" stroke="#555" stroke-width="0.8"/>
<line x1="192.5" y1="411.5" x2="196.7" y2="411.5" stroke="#111111" stroke-width="0.75"/>
<line x1="194.5" y1="409" x2="194.5" y2="413.2" stroke="#111111" stroke-width="0.75"/>
<line x1="213.3" y1="411.5" x2="215.3" y2="411.5" stroke="#555" stroke-width="0.8"/>
<text x="41.3" y="424.2" font-size="7.6" text-anchor="middle">Dpt</text>
<line x1="69.1" y1="421.5" x2="71.1" y2="421.5" stroke="#555" stroke-width="0.8"/>
<line x1="88.6" y1="421.5" x2="90.6" y2="421.5" stroke="#555" stroke-width="0.8"/>
<line x1="104.2" y1="421.5" x2="108.4" y2="421.5" stroke="#111111" stroke-width="0.75"/>
<line x1="106.5" y1="419.5" x2="106.5" y2="423.7" stroke="#111111" stroke-width="0.75"/>
<line x1="123.4" y1="421.5" x2="125.4" y2="421.5" stroke="#555" stroke-width="0.8"/>
<line x1="139.9" y1="421.5" x2="144.1" y2="421.5" stroke="#111111" stroke-width="0.75"/>
<line x1="142.5" y1="419.5" x2="142.5" y2="423.7" stroke="#111111" stroke-width="0.75"/>
<line x1="158.5" y1="421.5" x2="160.5" y2="421.5" stroke="#555" stroke-width="0.8"/>
<line x1="175.2" y1="421.5" x2="179.4" y2="421.5" stroke="#111111" stroke-width="0.75"/>
<line x1="177.5" y1="419.5" x2="177.5" y2="423.7" stroke="#111111" stroke-width="0.75"/>
<line x1="192.5" y1="421.5" x2="196.7" y2="421.5" stroke="#111111" stroke-width="0.75"/>
<line x1="194.5" y1="419.5" x2="194.5" y2="423.7" stroke="#111111" stroke-width="0.75"/>
<line x1="213.3" y1="421.5" x2="215.3" y2="421.5" stroke="#555" stroke-width="0.8"/>
<text x="41.3" y="434.7" font-size="7.6" text-anchor="middle">Fap</text>
<line x1="69.1" y1="432.5" x2="71.1" y2="432.5" stroke="#555" stroke-width="0.8"/>
<line x1="88.6" y1="432.5" x2="90.6" y2="432.5" stroke="#555" stroke-width="0.8"/>
<line x1="105.3" y1="432.5" x2="107.3" y2="432.5" stroke="#555" stroke-width="0.8"/>
<line x1="122.3" y1="432.5" x2="126.5" y2="432.5" stroke="#111111" stroke-width="0.75"/>
<line x1="124.5" y1="430" x2="124.5" y2="434.2" stroke="#111111" stroke-width="0.75"/>
<line x1="141" y1="432.5" x2="143" y2="432.5" stroke="#555" stroke-width="0.8"/>
<line x1="157.4" y1="432.5" x2="161.6" y2="432.5" stroke="#111111" stroke-width="0.75"/>
<line x1="159.5" y1="430" x2="159.5" y2="434.2" stroke="#111111" stroke-width="0.75"/>
<line x1="175.2" y1="432.5" x2="179.4" y2="432.5" stroke="#111111" stroke-width="0.75"/>
<line x1="177.5" y1="430" x2="177.5" y2="434.2" stroke="#111111" stroke-width="0.75"/>
<line x1="192.5" y1="432.5" x2="196.7" y2="432.5" stroke="#111111" stroke-width="0.75"/>
<line x1="194.5" y1="430" x2="194.5" y2="434.2" stroke="#111111" stroke-width="0.75"/>
<line x1="213.3" y1="432.5" x2="215.3" y2="432.5" stroke="#555" stroke-width="0.8"/>
<text x="247" y="245.2" font-size="11.3" font-weight="bold">D</text>
<line x1="283.5" y1="256.2" x2="283.5" y2="378.7" stroke="#111111" stroke-width="1"/>
<line x1="280.8" y1="357.5" x2="283.4" y2="357.5" stroke="#111111" stroke-width="1"/>
<text x="277.5" y="360.55" font-size="7.3" text-anchor="end">50</text>
<line x1="280.8" y1="307.5" x2="283.4" y2="307.5" stroke="#111111" stroke-width="1"/>
<text x="277.5" y="309.93" font-size="7.3" text-anchor="end">75</text>
<line x1="280.8" y1="256.5" x2="283.4" y2="256.5" stroke="#111111" stroke-width="1"/>
<text x="277.5" y="259.3" font-size="7.3" text-anchor="end">100</text>
<text x="259" y="315" font-size="9" text-anchor="middle" transform="rotate(-90 259 315)">Donor chimerism(%)</text>
<rect x="294.9" y="343.77" width="22.3" height="34.43" fill="#fff"/>
<polyline points="294.9,378.2 294.9,343.77 317.2,343.77 317.2,378.2" fill="none" stroke="#111111" stroke-width="1"/>
<line x1="306.5" y1="343.77" x2="306.5" y2="322.8" stroke="#111111" stroke-width="1"/>
<line x1="301.05" y1="322.5" x2="311.05" y2="322.5" stroke="#111111" stroke-width="1"/>
<circle cx="306.2" cy="303.8" r="2" fill="#111111"/>
<circle cx="306.2" cy="357" r="2" fill="#111111"/>
<circle cx="306.2" cy="366.5" r="2" fill="#111111"/>
<rect x="317.6" y="287.88" width="23.3" height="90.31" fill="#666666"/>
<line x1="329.5" y1="287.88" x2="329.5" y2="280.3" stroke="#111111" stroke-width="1"/>
<line x1="324.25" y1="280.5" x2="334.25" y2="280.5" stroke="#111111" stroke-width="1"/>
<circle cx="326.7" cy="278.3" r="2" fill="#111111"/>
<circle cx="332" cy="283.6" r="2" fill="#111111"/>
<circle cx="329.7" cy="301.2" r="2" fill="#111111"/>
<rect x="340.9" y="281.4" width="23.3" height="96.8" fill="#333333"/>
<line x1="352.5" y1="281.4" x2="352.5" y2="271.3" stroke="#111111" stroke-width="1"/>
<line x1="347.55" y1="271.5" x2="357.55" y2="271.5" stroke="#111111" stroke-width="1"/>
<circle cx="352.2" cy="269.3" r="2" fill="#111111"/>
<circle cx="349.6" cy="287.5" r="2" fill="#111111"/>
<circle cx="354.5" cy="285.6" r="2" fill="#111111"/>
<rect x="386.1" y="312.39" width="22.3" height="65.81" fill="#fff"/>
<polyline points="386.1,378.2 386.1,312.39 408.4,312.39 408.4,378.2" fill="none" stroke="#111111" stroke-width="1"/>
<line x1="397.5" y1="312.39" x2="397.5" y2="303.7" stroke="#111111" stroke-width="1"/>
<line x1="392.25" y1="303.5" x2="402.25" y2="303.5" stroke="#111111" stroke-width="1"/>
<circle cx="397.6" cy="294.4" r="2" fill="#111111"/>
<circle cx="397.6" cy="317.9" r="2" fill="#111111"/>
<circle cx="397.6" cy="325.3" r="2" fill="#111111"/>
<rect x="409.2" y="272.5" width="23.3" height="105.7" fill="#666666"/>
<line x1="420.5" y1="272.5" x2="420.5" y2="270.6" stroke="#111111" stroke-width="1"/>
<line x1="415.85" y1="270.5" x2="425.85" y2="270.5" stroke="#111111" stroke-width="1"/>
<circle cx="417.3" cy="269.4" r="2" fill="#111111"/>
<circle cx="424.1" cy="270.6" r="2" fill="#111111"/>
<circle cx="420.4" cy="278" r="2" fill="#111111"/>
<rect x="432" y="268.65" width="23.3" height="109.55" fill="#333333"/>
<line x1="443.5" y1="268.65" x2="443.5" y2="265.2" stroke="#111111" stroke-width="1"/>
<line x1="438.65" y1="265.5" x2="448.65" y2="265.5" stroke="#111111" stroke-width="1"/>
<circle cx="440.8" cy="263.8" r="2" fill="#111111"/>
<circle cx="446.7" cy="266.5" r="2" fill="#111111"/>
<circle cx="443.7" cy="272.6" r="2" fill="#111111"/>
<text x="317" y="257" font-size="7.5" text-anchor="middle">*</text>
<line x1="306.3" y1="258.5" x2="329" y2="258.5" stroke="#111111" stroke-width="1"/>
<line x1="306.3" y1="261.5" x2="352.7" y2="261.5" stroke="#111111" stroke-width="1"/>
<text x="407.5" y="254" font-size="7.5" text-anchor="middle">*</text>
<line x1="397" y1="255.5" x2="419.8" y2="255.5" stroke="#111111" stroke-width="1"/>
<line x1="397" y1="257.5" x2="443.6" y2="257.5" stroke="#777" stroke-width="1.2"/>
<line x1="292.7" y1="382.5" x2="364" y2="382.5" stroke="#111111" stroke-width="1"/>
<line x1="385.6" y1="382.5" x2="455.4" y2="382.5" stroke="#111111" stroke-width="1"/>
<text x="327.2" y="392.8" font-size="8.3" text-anchor="middle">Peripheral blood</text>
<text x="420.8" y="392.8" font-size="8.3" text-anchor="middle">Bone marrow</text>
<rect x="468" y="245.9" width="7.8" height="7.8" fill="#fff" stroke="#111111" stroke-width="1.1"/>
<text x="478.8" y="252.4" font-size="7.9">2018</text>
<rect x="467.5" y="257.7" width="8.8" height="8.5" fill="#666666"/>
<text x="478.8" y="264.7" font-size="7.9">2018</text>
<text x="495.2" y="262.8" font-size="5.2">DPT</text>
<rect x="467.5" y="270" width="8.8" height="8.5" fill="#333333"/>
<text x="478.8" y="277" font-size="7.9">AFT024</text>
<text x="7" y="459.8" font-size="11.3" font-weight="bold">E</text>
<line x1="52.5" y1="478.1" x2="52.5" y2="591.4" stroke="#111111" stroke-width="1"/>
<line x1="49.8" y1="590.5" x2="52.4" y2="590.5" stroke="#111111" stroke-width="1"/>
<text x="46.2" y="593.55" font-size="7.5" text-anchor="end">0</text>
<line x1="49.8" y1="562.5" x2="52.4" y2="562.5" stroke="#111111" stroke-width="1"/>
<text x="46.2" y="565.48" font-size="7.5" text-anchor="end">25</text>
<line x1="49.8" y1="534.5" x2="52.4" y2="534.5" stroke="#111111" stroke-width="1"/>
<text x="46.2" y="537.4" font-size="7.5" text-anchor="end">50</text>
<line x1="49.8" y1="506.5" x2="52.4" y2="506.5" stroke="#111111" stroke-width="1"/>
<text x="46.2" y="509.33" font-size="7.5" text-anchor="end">75</text>
<line x1="49.8" y1="478.5" x2="52.4" y2="478.5" stroke="#111111" stroke-width="1"/>
<text x="46.2" y="481.25" font-size="7.5" text-anchor="end">100</text>
<text x="15" y="534.1" font-size="9" text-anchor="middle" transform="rotate(-90 15 534.1)">Donor-derived cells in</text>
<text x="24.7" y="532" font-size="9" text-anchor="middle" transform="rotate(-90 24.7 532)">primary recipient's BM (%)</text>
<rect x="57.4" y="506.68" width="8.6" height="84.22" fill="#fff"/>
<polyline points="57.4,590.9 57.4,506.68 66,506.68 66,590.9" fill="none" stroke="#111111" stroke-width="1"/>
<rect x="66.5" y="481.52" width="9.6" height="109.38" fill="#666666"/>
<rect x="76.1" y="479.5" width="9.6" height="111.4" fill="#333333"/>
<line x1="61.5" y1="506.68" x2="61.5" y2="501.6" stroke="#111111" stroke-width="1"/>
<line x1="59.45" y1="501.5" x2="63.95" y2="501.5" stroke="#111111" stroke-width="1"/>
<circle cx="59.3" cy="500" r="1.75" fill="#111111"/>
<circle cx="63.7" cy="501.6" r="1.75" fill="#111111"/>
<circle cx="61.8" cy="517.9" r="1.75" fill="#111111"/>
<line x1="71.5" y1="481.52" x2="71.5" y2="479" stroke="#111111" stroke-width="1"/>
<line x1="69.05" y1="479.5" x2="73.55" y2="479.5" stroke="#111111" stroke-width="1"/>
<circle cx="68.3" cy="481.2" r="1.75" fill="#111111"/>
<circle cx="71.6" cy="482.8" r="1.75" fill="#111111"/>
<circle cx="74" cy="480.9" r="1.75" fill="#111111"/>
<line x1="80.5" y1="479.5" x2="80.5" y2="478.6" stroke="#111111" stroke-width="1"/>
<line x1="78.65" y1="478.5" x2="83.15" y2="478.5" stroke="#111111" stroke-width="1"/>
<circle cx="78.3" cy="479.8" r="1.75" fill="#111111"/>
<circle cx="81" cy="479.6" r="1.75" fill="#111111"/>
<circle cx="83.8" cy="479.8" r="1.75" fill="#111111"/>
<text x="66" y="471.6" font-size="7" text-anchor="middle">*</text>
<line x1="61.1" y1="472.5" x2="71.1" y2="472.5" stroke="#111111" stroke-width="0.9"/>
<line x1="61.1" y1="474.5" x2="81.3" y2="474.5" stroke="#111111" stroke-width="1"/>
<line x1="56.6" y1="595.5" x2="86.5" y2="595.5" stroke="#111111" stroke-width="1"/>
<rect x="95.9" y="530.82" width="8.6" height="60.08" fill="#fff"/>
<polyline points="95.9,590.9 95.9,530.82 104.5,530.82 104.5,590.9" fill="none" stroke="#111111" stroke-width="1"/>
<rect x="105" y="496.01" width="9.6" height="94.89" fill="#666666"/>
<rect x="114.6" y="487.58" width="9.6" height="103.32" fill="#333333"/>
<line x1="100.5" y1="530.82" x2="100.5" y2="517.9" stroke="#111111" stroke-width="1"/>
<line x1="97.95" y1="517.5" x2="102.45" y2="517.5" stroke="#111111" stroke-width="1"/>
<circle cx="99.6" cy="505.4" r="1.75" fill="#111111"/>
<circle cx="99.6" cy="539.9" r="1.75" fill="#111111"/>
<circle cx="99.6" cy="548.1" r="1.75" fill="#111111"/>
<line x1="109.5" y1="496.01" x2="109.5" y2="490.2" stroke="#111111" stroke-width="1"/>
<line x1="107.55" y1="490.5" x2="112.05" y2="490.5" stroke="#111111" stroke-width="1"/>
<circle cx="109.4" cy="484.8" r="1.75" fill="#111111"/>
<circle cx="109.4" cy="497.2" r="1.75" fill="#111111"/>
<circle cx="109.4" cy="504" r="1.75" fill="#111111"/>
<line x1="119.5" y1="487.58" x2="119.5" y2="482" stroke="#111111" stroke-width="1"/>
<line x1="117.15" y1="482.5" x2="121.65" y2="482.5" stroke="#111111" stroke-width="1"/>
<circle cx="119.2" cy="478.8" r="1.75" fill="#111111"/>
<circle cx="119.2" cy="487.7" r="1.75" fill="#111111"/>
<circle cx="119.2" cy="493.9" r="1.75" fill="#111111"/>
<text x="104.5" y="471.6" font-size="7" text-anchor="middle">*</text>
<line x1="99.6" y1="472.5" x2="109.6" y2="472.5" stroke="#111111" stroke-width="0.9"/>
<line x1="99.6" y1="474.5" x2="119.8" y2="474.5" stroke="#111111" stroke-width="1"/>
<line x1="95.1" y1="595.5" x2="125" y2="595.5" stroke="#111111" stroke-width="1"/>
<rect x="133.9" y="539.02" width="8.6" height="51.88" fill="#fff"/>
<polyline points="133.9,590.9 133.9,539.02 142.5,539.02 142.5,590.9" fill="none" stroke="#111111" stroke-width="1"/>
<rect x="143" y="484.22" width="9.6" height="106.68" fill="#666666"/>
<rect x="152.6" y="479.16" width="9.6" height="111.74" fill="#333333"/>
<line x1="138.5" y1="539.02" x2="138.5" y2="526" stroke="#111111" stroke-width="1"/>
<line x1="135.95" y1="526.5" x2="140.45" y2="526.5" stroke="#111111" stroke-width="1"/>
<circle cx="138.1" cy="520.3" r="1.75" fill="#111111"/>
<circle cx="138.1" cy="533" r="1.75" fill="#111111"/>
<circle cx="138.1" cy="547" r="1.75" fill="#111111"/>
<line x1="147.5" y1="484.22" x2="147.5" y2="480" stroke="#111111" stroke-width="1"/>
<line x1="145.55" y1="480.5" x2="150.05" y2="480.5" stroke="#111111" stroke-width="1"/>
<circle cx="146.3" cy="480.4" r="1.75" fill="#111111"/>
<circle cx="149.2" cy="483.6" r="1.75" fill="#111111"/>
<circle cx="147.9" cy="489" r="1.75" fill="#111111"/>
<line x1="157.5" y1="479.16" x2="157.5" y2="478" stroke="#111111" stroke-width="1"/>
<line x1="155.15" y1="478.5" x2="159.65" y2="478.5" stroke="#111111" stroke-width="1"/>
<circle cx="155" cy="478.6" r="1.75" fill="#111111"/>
<circle cx="157.5" cy="478.4" r="1.75" fill="#111111"/>
<circle cx="160" cy="478.6" r="1.75" fill="#111111"/>
<text x="142.5" y="471.6" font-size="7" text-anchor="middle">*</text>
<line x1="137.6" y1="472.5" x2="147.6" y2="472.5" stroke="#111111" stroke-width="0.9"/>
<line x1="137.6" y1="474.5" x2="157.8" y2="474.5" stroke="#111111" stroke-width="1"/>
<line x1="133.1" y1="595.5" x2="163" y2="595.5" stroke="#111111" stroke-width="1"/>
<rect x="171.7" y="500.61" width="8.6" height="90.29" fill="#fff"/>
<polyline points="171.7,590.9 171.7,500.61 180.3,500.61 180.3,590.9" fill="none" stroke="#111111" stroke-width="1"/>
<rect x="180.8" y="479.16" width="9.6" height="111.74" fill="#666666"/>
<rect x="190.4" y="479.16" width="9.6" height="111.74" fill="#333333"/>
<line x1="176.5" y1="500.61" x2="176.5" y2="495" stroke="#111111" stroke-width="1"/>
<line x1="173.75" y1="495.5" x2="178.25" y2="495.5" stroke="#111111" stroke-width="1"/>
<circle cx="176.1" cy="490.2" r="1.75" fill="#111111"/>
<circle cx="176.1" cy="502.7" r="1.75" fill="#111111"/>
<circle cx="176.1" cy="509.2" r="1.75" fill="#111111"/>
<circle cx="183.5" cy="478.6" r="1.75" fill="#111111"/>
<circle cx="186" cy="478.8" r="1.75" fill="#111111"/>
<circle cx="188.5" cy="478.6" r="1.75" fill="#111111"/>
<circle cx="193" cy="478.6" r="1.75" fill="#111111"/>
<circle cx="195.5" cy="478.6" r="1.75" fill="#111111"/>
<circle cx="198" cy="478.6" r="1.75" fill="#111111"/>
<text x="180.3" y="471.6" font-size="7" text-anchor="middle">*</text>
<line x1="175.4" y1="472.5" x2="185.4" y2="472.5" stroke="#111111" stroke-width="0.9"/>
<line x1="175.4" y1="474.5" x2="195.6" y2="474.5" stroke="#111111" stroke-width="1"/>
<line x1="170.9" y1="595.5" x2="200.8" y2="595.5" stroke="#111111" stroke-width="1"/>
<text x="71.4" y="605.6" font-size="8.4" text-anchor="middle">KSL</text>
<text x="109.8" y="605.6" font-size="8.4" text-anchor="middle">HSC</text>
<text x="148.7" y="605.6" font-size="8.4" text-anchor="middle">early MPP</text>
<text x="186.9" y="605.6" font-size="8.4" text-anchor="middle">late MPP</text>
<rect x="209.6" y="472.8" width="7.6" height="7.6" fill="#fff" stroke="#111111" stroke-width="1.1"/>
<text x="220.6" y="479.2" font-size="7.6">2018</text>
<rect x="209.1" y="484.4" width="8.6" height="8.2" fill="#666666"/>
<text x="220.6" y="491.3" font-size="7.6">2018</text>
<text x="237.6" y="489.7" font-size="5.2">DPT</text>
<rect x="209.1" y="496.5" width="8.6" height="8.2" fill="#333333"/>
<text x="220.6" y="503.4" font-size="7.6">AFT024</text>
<text x="263.4" y="459.8" font-size="11.3" font-weight="bold">F</text>
<line x1="304.5" y1="479.7" x2="304.5" y2="591.8" stroke="#111111" stroke-width="1"/>
<line x1="301.7" y1="591.5" x2="304.3" y2="591.5" stroke="#111111" stroke-width="1"/>
<text x="298.1" y="593.95" font-size="7.5" text-anchor="end">0</text>
<line x1="301.7" y1="563.5" x2="304.3" y2="563.5" stroke="#111111" stroke-width="1"/>
<text x="298.1" y="566.18" font-size="7.5" text-anchor="end">25</text>
<line x1="301.7" y1="535.5" x2="304.3" y2="535.5" stroke="#111111" stroke-width="1"/>
<text x="298.1" y="538.4" font-size="7.5" text-anchor="end">50</text>
<line x1="301.7" y1="507.5" x2="304.3" y2="507.5" stroke="#111111" stroke-width="1"/>
<text x="298.1" y="510.63" font-size="7.5" text-anchor="end">75</text>
<line x1="301.7" y1="480.5" x2="304.3" y2="480.5" stroke="#111111" stroke-width="1"/>
<text x="298.1" y="482.85" font-size="7.5" text-anchor="end">100</text>
<text x="279.2" y="534" font-size="9" text-anchor="middle" transform="rotate(-90 279.2 534)">Donor chimerism in PB (%)</text>
<rect x="311.5" y="541.3" width="13.4" height="50" fill="#fff"/>
<polyline points="311.5,591.3 311.5,541.3 324.9,541.3 324.9,591.3" fill="none" stroke="#111111" stroke-width="1"/>
<rect x="325.4" y="499.09" width="14.4" height="92.21" fill="#666666"/>
<rect x="339.8" y="492.42" width="14.4" height="98.88" fill="#333333"/>
<line x1="318.5" y1="541.3" x2="318.5" y2="523.6" stroke="#111111" stroke-width="1"/>
<line x1="314.95" y1="523.5" x2="321.45" y2="523.5" stroke="#111111" stroke-width="1"/>
<circle cx="318.1" cy="509.4" r="2" fill="#111111"/>
<circle cx="318.1" cy="544.3" r="2" fill="#111111"/>
<circle cx="318.1" cy="563.5" r="2" fill="#111111"/>
<line x1="332.5" y1="499.09" x2="332.5" y2="491.4" stroke="#111111" stroke-width="1"/>
<line x1="329.35" y1="491.5" x2="335.85" y2="491.5" stroke="#111111" stroke-width="1"/>
<circle cx="330" cy="488.7" r="2" fill="#111111"/>
<circle cx="335" cy="492.5" r="2" fill="#111111"/>
<circle cx="332.5" cy="513.2" r="2" fill="#111111"/>
<line x1="347.5" y1="492.42" x2="347.5" y2="486.8" stroke="#111111" stroke-width="1"/>
<line x1="343.75" y1="486.5" x2="350.25" y2="486.5" stroke="#111111" stroke-width="1"/>
<circle cx="346.9" cy="483.6" r="2" fill="#111111"/>
<circle cx="346.9" cy="492.1" r="2" fill="#111111"/>
<circle cx="346.9" cy="498.8" r="2" fill="#111111"/>
<line x1="311.5" y1="594.5" x2="353.7" y2="594.5" stroke="#111111" stroke-width="1"/>
<rect x="367.1" y="513.09" width="13.4" height="78.21" fill="#fff"/>
<polyline points="367.1,591.3 367.1,513.09 380.5,513.09 380.5,591.3" fill="none" stroke="#111111" stroke-width="1"/>
<rect x="381" y="497.98" width="14.4" height="93.32" fill="#666666"/>
<rect x="395.4" y="498.75" width="14.4" height="92.55" fill="#333333"/>
<line x1="373.5" y1="513.09" x2="373.5" y2="503.7" stroke="#111111" stroke-width="1"/>
<line x1="370.55" y1="503.5" x2="377.05" y2="503.5" stroke="#111111" stroke-width="1"/>
<circle cx="373.8" cy="496.3" r="2" fill="#111111"/>
<circle cx="373.8" cy="514.1" r="2" fill="#111111"/>
<circle cx="373.8" cy="529.5" r="2" fill="#111111"/>
<line x1="388.5" y1="497.98" x2="388.5" y2="497" stroke="#111111" stroke-width="1"/>
<line x1="384.95" y1="497.5" x2="391.45" y2="497.5" stroke="#111111" stroke-width="1"/>
<circle cx="383.7" cy="496.7" r="2" fill="#111111"/>
<circle cx="388.1" cy="498.4" r="2" fill="#111111"/>
<circle cx="392.4" cy="497.2" r="2" fill="#111111"/>
<line x1="402.5" y1="498.75" x2="402.5" y2="495.7" stroke="#111111" stroke-width="1"/>
<line x1="399.35" y1="495.5" x2="405.85" y2="495.5" stroke="#111111" stroke-width="1"/>
<circle cx="399.1" cy="492.9" r="2" fill="#111111"/>
<circle cx="404.4" cy="494.6" r="2" fill="#111111"/>
<circle cx="402.3" cy="506.9" r="2" fill="#111111"/>
<line x1="367.1" y1="594.5" x2="409.3" y2="594.5" stroke="#111111" stroke-width="1"/>
<rect x="423.6" y="530.64" width="13.4" height="60.66" fill="#fff"/>
<polyline points="423.6,591.3 423.6,530.64 437,530.64 437,591.3" fill="none" stroke="#111111" stroke-width="1"/>
<rect x="437.5" y="500.2" width="14.4" height="91.1" fill="#666666"/>
<rect x="451.9" y="499.09" width="14.4" height="92.21" fill="#333333"/>
<line x1="430.5" y1="530.64" x2="430.5" y2="518.9" stroke="#111111" stroke-width="1"/>
<line x1="427.05" y1="518.5" x2="433.55" y2="518.5" stroke="#111111" stroke-width="1"/>
<circle cx="430.1" cy="515.8" r="2" fill="#111111"/>
<circle cx="430.1" cy="522.5" r="2" fill="#111111"/>
<circle cx="430.1" cy="551.7" r="2" fill="#111111"/>
<line x1="444.5" y1="500.2" x2="444.5" y2="495.7" stroke="#111111" stroke-width="1"/>
<line x1="441.45" y1="495.5" x2="447.95" y2="495.5" stroke="#111111" stroke-width="1"/>
<circle cx="443.8" cy="494.2" r="2" fill="#111111"/>
<circle cx="443.8" cy="500.5" r="2" fill="#111111"/>
<circle cx="443.8" cy="505.6" r="2" fill="#111111"/>
<line x1="459.5" y1="499.09" x2="459.5" y2="496.5" stroke="#111111" stroke-width="1"/>
<line x1="455.85" y1="496.5" x2="462.35" y2="496.5" stroke="#111111" stroke-width="1"/>
<circle cx="456.1" cy="501" r="2" fill="#111111"/>
<circle cx="458.7" cy="496.3" r="2" fill="#111111"/>
<circle cx="461.8" cy="498.8" r="2" fill="#111111"/>
<line x1="423.6" y1="594.5" x2="465.8" y2="594.5" stroke="#111111" stroke-width="1"/>
<text x="332.5" y="477" font-size="7" text-anchor="middle">*</text>
<line x1="319.4" y1="478.5" x2="346.3" y2="478.5" stroke="#111111" stroke-width="1"/>
<text x="436.4" y="483.4" font-size="7" text-anchor="middle">*</text>
<line x1="430.1" y1="484.5" x2="443.8" y2="484.5" stroke="#111111" stroke-width="1"/>
<line x1="430.1" y1="486.5" x2="458.7" y2="486.5" stroke="#111111" stroke-width="1"/>
<text x="332.6" y="605.3" font-size="8.4" text-anchor="middle">B cells</text>
<text x="388.2" y="605.3" font-size="8.4" text-anchor="middle">Myeloid</text>
<text x="444.7" y="605.3" font-size="8.4" text-anchor="middle">T cells</text>
<rect x="474" y="476.5" width="7.4" height="7.4" fill="#fff" stroke="#111111" stroke-width="1.1"/>
<text x="484.5" y="482.8" font-size="7.6">2018</text>
<rect x="473.5" y="487.8" width="8.2" height="7.8" fill="#666666"/>
<text x="484.5" y="494.6" font-size="7.6">2018</text>
<text x="501" y="492.7" font-size="5.2">DPT</text>
<rect x="473.5" y="499.6" width="8.2" height="7.8" fill="#333333"/>
<text x="484.5" y="506.4" font-size="7.6">AFT024</text>
<line x1="0" y1="0.7" x2="520" y2="0.7" stroke="#3a3a3a" stroke-width="1.6"/>
<line x1="0.5" y1="0" x2="0.5" y2="613" stroke="#000" stroke-width="1.1"/>
<line x1="519.5" y1="0" x2="519.5" y2="613" stroke="#000" stroke-width="1.1"/>
<line x1="0" y1="612" x2="520" y2="612" stroke="#000" stroke-width="1.8"/>
<line x1="52.5" y1="145" x2="261.5" y2="145" stroke="#111111" stroke-width="1.3"/>
<line x1="300.4" y1="145.2" x2="504.7" y2="145.2" stroke="#111111" stroke-width="1.3"/>
<line x1="52.6" y1="378" x2="233.8" y2="378" stroke="#111111" stroke-width="1.3"/>
<line x1="283.4" y1="378.2" x2="470.4" y2="378.2" stroke="#111111" stroke-width="1.3"/>
<line x1="52.4" y1="590.9" x2="206.2" y2="590.9" stroke="#111111" stroke-width="1.3"/>
<line x1="304.3" y1="591.3" x2="473.8" y2="591.3" stroke="#111111" stroke-width="1.3"/>
</svg>
</body></html>
